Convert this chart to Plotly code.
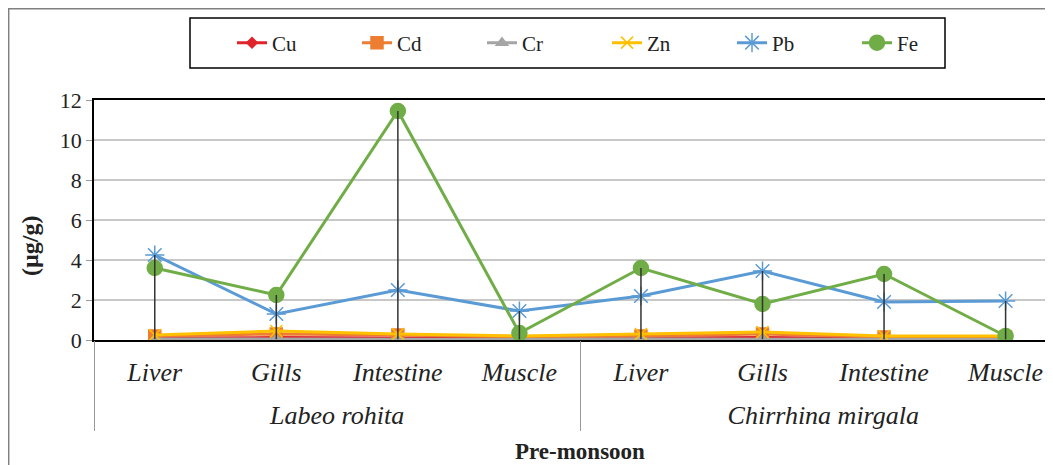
import plotly.graph_objects as go

species = ["Labeo rohita"] * 4 + ["Chirrhina mirgala"] * 4
organs = ["Liver", "Gills", "Intestine", "Muscle"] * 2

Cu = [0.10, 0.12, 0.10, 0.08, 0.10, 0.12, 0.08, 0.08]
Cd = [0.20, 0.30, 0.25, 0.15, 0.20, 0.30, 0.15, 0.15]
Cr = [0.05, 0.04, 0.04, 0.03, 0.05, 0.04, 0.04, 0.03]
Zn = [0.25, 0.45, 0.30, 0.20, 0.30, 0.40, 0.20, 0.20]
Pb = [4.25, 1.30, 2.50, 1.45, 2.20, 3.45, 1.90, 1.95]
Fe = [3.60, 2.25, 11.45, 0.35, 3.60, 1.80, 3.30, 0.20]

series = [
    ("Cu", Cu, "#E0242B", "diamond", 8),
    ("Cd", Cd, "#ED7D31", "square", 12),
    ("Cr", Cr, "#A5A5A5", "triangle-up", 10),
    ("Zn", Zn, "#FFC000", "x-thin-open", 12),
    ("Pb", Pb, "#5B9BD5", "asterisk-open", 16),
    ("Fe", Fe, "#70AD47", "circle", 15),
]

serif = "Liberation Serif"

# category positions on the axis
xi = list(range(len(organs)))
groups = list(dict.fromkeys(species))
group_centers = [sum(i for i, s in enumerate(species) if s == g) / species.count(g) for g in groups]
group_edges = [-0.5] + [i + 0.5 for i in range(len(species) - 1) if species[i] != species[i + 1]] + [len(species) - 0.5]

OFF = 8  # page body margin
W, H = 1053 - OFF, 465 - OFF
L, R, T, B = 86, 0, 92, 125
PW, PH = W - L - R, H - T - B


def px(page_x):
    return (page_x - OFF - L) / PW


def py(page_y):
    return (H - B - (page_y - OFF)) / PH


XR = [-0.5, 7.39]

fig = go.Figure()
for name, vals, col, sym, sz in series:
    fig.add_trace(go.Scatter(
        x=xi, y=vals, name=name, mode="lines+markers",
        line=dict(color=col, width=3),
        marker=dict(symbol=sym, size=sz, color=col, line=dict(color=col, width=1.5)),
    ))

hi = [max(v) for v in zip(Cu, Cd, Cr, Zn, Pb, Fe)]
lo = [min(v) for v in zip(Cu, Cd, Cr, Zn, Pb, Fe)]
fig.add_trace(go.Scatter(
    x=xi, y=hi, mode="markers", showlegend=False, hoverinfo="skip",
    marker=dict(size=1, opacity=0),
    error_y=dict(type="data", symmetric=False, array=[0] * len(hi),
                 arrayminus=[h - l for h, l in zip(hi, lo)],
                 color="#333333", thickness=1.5, width=0),
))

# invisible trace to activate the group-label axis
fig.add_trace(go.Scatter(x=group_centers, y=[0] * len(groups), xaxis="x2", mode="markers",
                         marker=dict(opacity=0), showlegend=False, hoverinfo="skip"))

tf = dict(family=serif, size=26, style="italic", color="#222222")

fig.update_layout(
    width=W, height=H,
    margin=dict(l=L, r=R, t=T, b=B, autoexpand=False),
    paper_bgcolor="white", plot_bgcolor="white",
    font=dict(family=serif, color="#222222"),
    legend=dict(orientation="h", x=px(232), xanchor="left", y=py(43), yanchor="middle",
                borderwidth=0, bgcolor="rgba(0,0,0,0)",
                entrywidth=80, font=dict(family=serif, size=21)),
    xaxis=dict(range=XR, autorange=False, showline=True, mirror=True,
               linecolor="black", linewidth=1.5, showgrid=False, zeroline=False,
               tickmode="array", tickvals=xi, ticktext=organs, ticks="",
               ticklabelstandoff=8, tickfont=tf),
    xaxis2=dict(overlaying="x", anchor="free", position=0, side="bottom",
                range=XR, autorange=False, showline=False, showgrid=False, zeroline=False,
                tickmode="array", tickvals=group_centers, ticktext=groups, ticks="",
                ticklabelstandoff=57, tickfont=tf,
                minor=dict(tickmode="array", tickvals=group_edges, ticks="outside",
                           ticklen=90, tickwidth=1, tickcolor="#999999", showgrid=False)),
    yaxis=dict(range=[0, 12], dtick=2, showline=True, linecolor="black", linewidth=1.5,
               gridcolor="#C8C8C8", gridwidth=1.5, ticks="outside", ticklen=6,
               tickcolor="#999999", zeroline=False,
               tickfont=dict(family=serif, size=22, color="#222222")),
    shapes=[
        dict(type="rect", xref="paper", yref="paper",
             x0=px(8.7), x1=1.2, y0=-1, y1=py(8.7),
             line=dict(color="#808080", width=1.5), fillcolor="rgba(0,0,0,0)"),
        dict(type="rect", xref="paper", yref="paper",
             x0=px(190), x1=px(945), y0=py(68), y1=py(18),
             line=dict(color="black", width=1.5), fillcolor="rgba(0,0,0,0)"),
    ],
    annotations=[
        dict(text="<b>(µg/g)</b>", xref="paper", yref="paper", x=px(30), y=py(246),
             xanchor="center", yanchor="middle",
             textangle=-90, showarrow=False, font=dict(family=serif, size=24, color="#222222")),
        dict(text="<b>Pre-monsoon</b>", xref="paper", yref="paper", x=px(580), y=py(451),
             xanchor="center", yanchor="middle", showarrow=False,
             font=dict(family=serif, size=23, color="#222222")),
    ],
)

fig.write_html("out.html")
